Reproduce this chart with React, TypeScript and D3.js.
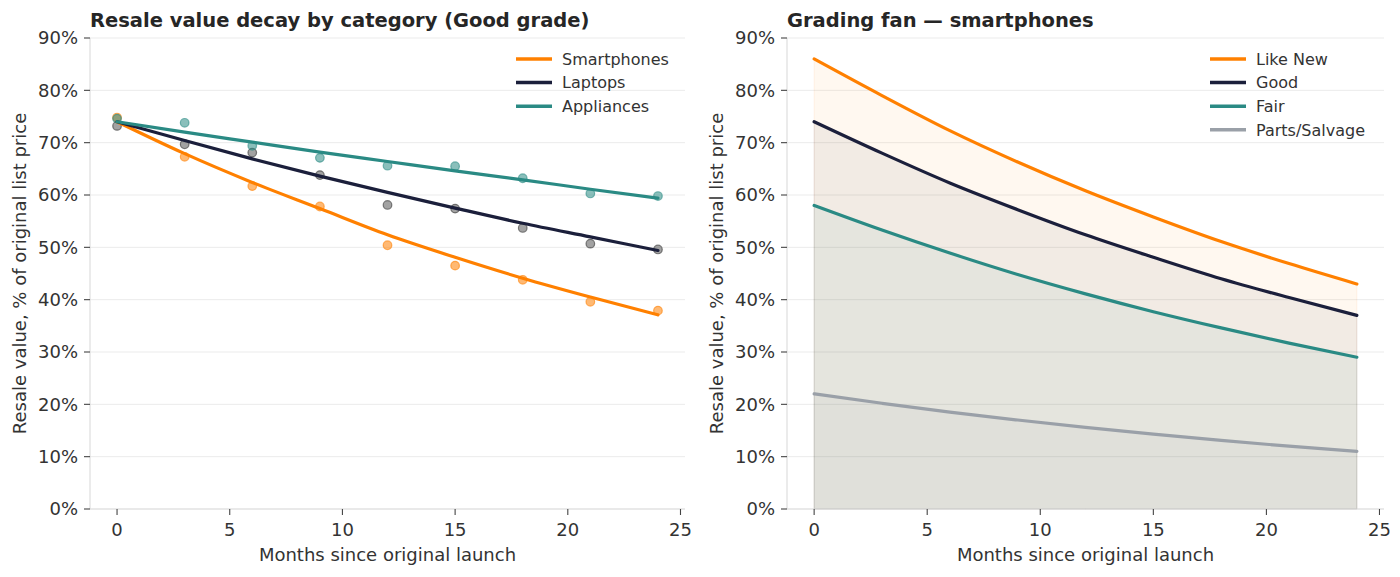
import React from 'react';
import * as d3 from 'd3';

// months sampled every quarter
const months = [0, 3, 6, 9, 12, 15, 18, 21, 24];

// left panel: fitted decay curves (Good grade), % of list price
const smartphonesFit = [74.0, 67.9, 62.4, 57.4, 52.4, 48.1, 44.1, 40.5, 37.1];
const laptopsFit = [74.0, 70.4, 66.9, 63.6, 60.5, 57.5, 54.6, 52.0, 49.4];
const appliancesFit = [74.0, 72.0, 70.1, 68.2, 66.4, 64.6, 62.9, 61.1, 59.4];

// left panel: observed points
const smartphonesObs = [74.8, 67.3, 61.7, 57.8, 50.4, 46.5, 43.8, 39.6, 37.9];
const laptopsObs = [73.2, 69.7, 68.1, 63.8, 58.1, 57.4, 53.7, 50.7, 49.6];
const appliancesObs = [74.6, 73.8, 69.4, 67.1, 65.6, 65.5, 63.2, 60.3, 59.8];

// right panel: grade curves for smartphones
const likeNew = [86.0, 79.0, 72.3, 66.3, 60.8, 55.8, 51.1, 46.9, 43.0];
const good = [74.0, 68.0, 62.3, 57.2, 52.4, 48.1, 44.0, 40.4, 37.0];
const fair = [58.0, 53.3, 48.9, 44.8, 41.1, 37.7, 34.6, 31.7, 29.0];
const parts = [22.0, 20.2, 18.5, 17.0, 15.6, 14.3, 13.1, 12.0, 11.0];

const yTicks = [0, 10, 20, 30, 40, 50, 60, 70, 80, 90];
const xTicks = [0, 5, 10, 15, 20, 25];

const ORANGE = '#ff8000';
const NAVY = '#1b1f3b';
const TEAL = '#2a8a84';
const GRAY = '#9aa0a8';
const FONT = 'DejaVu Sans, sans-serif';

const W = 1400;
const H = 577;
const top = 38;
const bottom = 509;

interface PanelProps {
  x0: number;
  x1: number;
  title: string;
  children: (x: d3.ScaleLinear<number, number>, y: d3.ScaleLinear<number, number>) => React.ReactNode;
  legend: { label: string; color: string }[];
  legendX: number;
}

const Panel: React.FC<PanelProps> = ({ x0, x1, title, children, legend, legendX }) => {
  const x = d3.scaleLinear().domain([-1.2, 25.2]).range([x0, x1]);
  const y = d3.scaleLinear().domain([0, 90]).range([bottom, top]);
  return (
    <g>
      {/* grid */}
      {yTicks.map(t => (
        <line key={'g' + t} x1={x0} x2={x1} y1={y(t)} y2={y(t)} stroke="#ebebeb" strokeWidth={1} />
      ))}
      {children(x, y)}
      {/* spines */}
      <line x1={x0} x2={x0} y1={top} y2={bottom} stroke="#dedede" strokeWidth={1.2} />
      <line x1={x0} x2={x1} y1={bottom} y2={bottom} stroke="#dedede" strokeWidth={1.2} />
      {/* y ticks */}
      {yTicks.map(t => (
        <g key={'y' + t}>
          <line x1={x0 - 6} x2={x0} y1={y(t)} y2={y(t)} stroke="#444" strokeWidth={1.1} />
          <text x={x0 - 12} y={y(t)} dy="0.36em" textAnchor="end" fontSize={18} fill="#333" fontFamily={FONT}>{t}%</text>
        </g>
      ))}
      {/* x ticks */}
      {xTicks.map(t => (
        <g key={'x' + t}>
          <line x1={x(t)} x2={x(t)} y1={bottom} y2={bottom + 6} stroke="#444" strokeWidth={1.1} />
          <text x={x(t)} y={bottom + 21} dy="0.36em" textAnchor="middle" fontSize={18} fill="#333" fontFamily={FONT}>{t}</text>
        </g>
      ))}
      <text x={(x0 + x1) / 2} y={555} dy="0.36em" textAnchor="middle" fontSize={18} fill="#333" fontFamily={FONT}>
        Months since original launch
      </text>
      <text transform={`translate(${x0 - 70},${(top + bottom) / 2}) rotate(-90)`} dy="0.36em" textAnchor="middle" fontSize={18} fill="#333" fontFamily={FONT}>
        Resale value, % of original list price
      </text>
      <text x={x0} y={27} fontSize={19.5} fontWeight="bold" fill="#262626" fontFamily={FONT}>{title}</text>
      {/* legend */}
      {legend.map((d, i) => (
        <g key={d.label} transform={`translate(${legendX},${59 + i * 23.6})`}>
          <line x1={0} x2={36} y1={0} y2={0} stroke={d.color} strokeWidth={3.5} />
          <text x={46} y={0} dy="0.36em" fontSize={16} fill="#333" fontFamily={FONT}>{d.label}</text>
        </g>
      ))}
    </g>
  );
};

const App: React.FC = () => {
  const leftSeries = [
    { label: 'Smartphones', color: ORANGE, fit: smartphonesFit, obs: smartphonesObs },
    { label: 'Laptops', color: NAVY, fit: laptopsFit, obs: laptopsObs },
    { label: 'Appliances', color: TEAL, fit: appliancesFit, obs: appliancesObs },
  ];
  const rightSeries = [
    { label: 'Like New', color: ORANGE, values: likeNew },
    { label: 'Good', color: NAVY, values: good },
    { label: 'Fair', color: TEAL, values: fair },
    { label: 'Parts/Salvage', color: GRAY, values: parts },
  ];

  return (
    <svg width={W} height={H} style={{ position: 'absolute', left: 0, top: 0, background: '#fff' }}>
      <Panel
        x0={90}
        x1={685}
        title="Resale value decay by category (Good grade)"
        legend={leftSeries}
        legendX={516}
      >
        {(x, y) => {
          const line = d3.line<number>().x((_, i) => x(months[i])).y(v => y(v)).curve(d3.curveMonotoneX);
          return (
            <g>
              {leftSeries.map(s => (
                <g key={s.label}>
                  {s.obs.map((v, i) => (
                    <circle key={i} cx={x(months[i])} cy={y(v)} r={4.3}
                      fill={s.color === NAVY ? '#555' : s.color} fillOpacity={0.55}
                      stroke={s.color === NAVY ? '#333' : s.color} strokeOpacity={0.6} strokeWidth={1.2} />
                  ))}
                </g>
              ))}
              {leftSeries.map(s => (
                <path key={s.label} d={line(s.fit) || ''} fill="none" stroke={s.color} strokeWidth={3.2} strokeLinecap="round" />
              ))}
            </g>
          );
        }}
      </Panel>
      <Panel
        x0={787}
        x1={1384}
        title="Grading fan — smartphones"
        legend={rightSeries}
        legendX={1210}
      >
        {(x, y) => {
          const line = d3.line<number>().x((_, i) => x(months[i])).y(v => y(v)).curve(d3.curveMonotoneX);
          const area = d3.area<number>().x((_, i) => x(months[i])).y0(y(0)).y1(v => y(v)).curve(d3.curveMonotoneX);
          return (
            <g>
              {rightSeries.map(s => (
                <path key={'a' + s.label} d={area(s.values) || ''} fill={s.color} fillOpacity={0.06}
                  stroke={s.color} strokeOpacity={0.08} strokeWidth={1} />
              ))}
              {rightSeries.map(s => (
                <path key={s.label} d={line(s.values) || ''} fill="none" stroke={s.color} strokeWidth={3.2} strokeLinecap="round" />
              ))}
            </g>
          );
        }}
      </Panel>
    </svg>
  );
};

export default App;
